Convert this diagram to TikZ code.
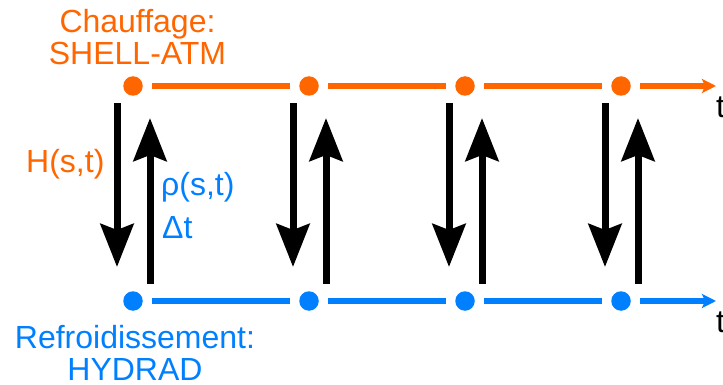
\documentclass[tikz,border=0pt]{standalone}
\usepackage{fontspec}
\setmainfont{Liberation Sans}
\usetikzlibrary{arrows.meta,calc}
\definecolor{heat}{RGB}{255,102,0}
\definecolor{cool}{RGB}{0,128,255}
\begin{document}
\begin{tikzpicture}[x=1pt,y=-1pt,
  dot/.style={circle,fill,inner sep=0pt,minimum size=19.5pt,outer sep=9pt},
  timeline/.style={line width=6pt},
  timearrow/.style={line width=6pt,-{Stealth[length=14pt,width=14pt,inset=3pt]}},
  flux/.style={line width=7pt,-{Stealth[length=43pt,width=33pt,inset=6pt]}},
  lbl/.style={inner sep=0pt,font=\fontsize{32}{38}\selectfont}]
\useasboundingbox (0,0) rectangle (723,385);
\foreach \i/\x in {1/133,2/309,3/465,4/621}{
  \node[dot,heat] (t\i) at (\x,86) {};
  \node[dot,cool] (b\i) at (\x,301) {};
}
\coordinate (tend) at (716,86);
\coordinate (bend) at (716,301);
\foreach \i/\j in {1/2,2/3,3/4}{
  \draw[timeline,heat] (t\i) -- (t\j);
  \draw[timeline,cool] (b\i) -- (b\j);
}
\draw[timearrow,heat] (t4) -- (tend);
\draw[timearrow,cool] (b4) -- (bend);
\foreach \i in {1,2,3,4}{
  \draw[flux] ($(t\i.center)+(-16,17)$) -- ($(b\i.center)+(-16,-34)$);
  \draw[flux] ($(b\i.center)+(17,-17)$) -- ($(t\i.center)+(17,32)$);
}
\node[lbl,heat,anchor=base] (ch1) at (137.5,33) {Chauffage:};
\node[lbl,heat,anchor=base] (ch2) at (137.5,65) {SHELL-ATM};
\node[lbl,cool,anchor=base] (rf1) at (135,348) {Refroidissement:};
\node[lbl,cool,anchor=base] (rf2) at (135,380) {HYDRAD};
\node[lbl,heat,anchor=base west] (hst) at (26,172) {H(s,t)};
\node[lbl,cool,anchor=base west] (rho) at (161,196) {ρ(s,t)};
\node[lbl,cool,anchor=base west] (dt) at (162,238) {Δt};
\node[lbl,anchor=base west] (tt) at (716,118) {t};
\node[lbl,anchor=base west] (tb) at (716,332) {t};
\end{tikzpicture}
\end{document}
